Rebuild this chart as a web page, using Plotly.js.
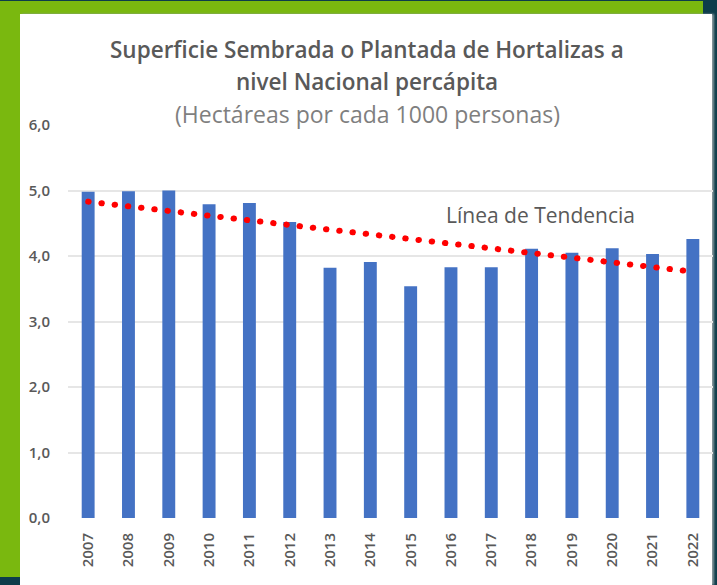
<!DOCTYPE html>
<html>
<head>
<meta charset="utf-8">
<script src="https://cdn.plot.ly/plotly-3.0.1.min.js"></script>
<style>
  html, body { margin: 0; padding: 0; width: 717px; height: 585px; overflow: hidden; background: #0d3d4b; }
  #green { position: absolute; left: 0; top: 1px; width: 703px; height: 576px; background: #7ab80f; }
  #white { position: absolute; left: 20px; top: 14px; width: 692px; height: 571px; background: #ffffff; box-shadow: 2px 0 2px #8a9a9e; }
  #chart { position: absolute; left: 0; top: 0; width: 717px; height: 585px; }
  #chart .js-line { stroke-linecap: round; }
</style>
</head>
<body>
<div id="green"></div>
<div id="white"></div>
<div id="chart"></div>
<script>
// Data
const years = ['2007','2008','2009','2010','2011','2012','2013','2014','2015','2016','2017','2018','2019','2020','2021','2022'];
const values = [4.98, 4.99, 5.00, 4.79, 4.81, 4.52, 3.82, 3.91, 3.54, 3.83, 3.83, 4.11, 4.05, 4.12, 4.03, 4.26];
const trendYears = ['2007', '2022'];
const trendValues = [4.83, 3.76];
const yTicks = [0, 1, 2, 3, 4, 5, 6];

const titleLine1 = 'Superficie Sembrada o Plantada de Hortalizas a';
const titleLine2 = 'nivel Nacional percápita';
const subtitle = '(Hectáreas por cada 1000 personas)';
const trendLabel = 'Línea de Tendencia';

const fontFam = '"Open Sans", "Noto Sans", sans-serif';
const grey = '#595959';

const traces = [
  {
    type: 'bar',
    x: years,
    y: values,
    marker: { color: '#4472c4' },
    width: 0.32,
    hoverinfo: 'x+y'
  },
  {
    type: 'scatter',
    mode: 'lines',
    x: trendYears,
    y: trendValues,
    line: { color: '#ff0000', width: 6, dash: '0.5px,12.8px' },
    hoverinfo: 'skip'
  }
];

const layout = {
  width: 717,
  height: 585,
  margin: { l: 68, r: 4, t: 125, b: 67 },
  paper_bgcolor: 'rgba(0,0,0,0)',
  plot_bgcolor: 'rgba(0,0,0,0)',
  showlegend: false,
  separators: ',.',
  font: { family: fontFam, color: grey },
  xaxis: {
    type: 'category',
    range: [-0.5, 15.5],
    showgrid: false,
    zeroline: false,
    showline: false,
    ticks: '',
    tickangle: -90,
    ticklabelstandoff: 11,
    tickfont: { size: 15, color: grey, family: fontFam, weight: 600 },
    fixedrange: true
  },
  yaxis: {
    range: [0, 6],
    tickvals: yTicks,
    tickformat: '.1f',
    showgrid: true,
    gridcolor: '#e6e6e6',
    gridwidth: 2,
    zeroline: false,
    showline: false,
    ticks: '',
    ticklabelstandoff: 17,
    tickfont: { size: 15, color: grey, family: fontFam, weight: 600 },
    fixedrange: true
  },
  annotations: [
    {
      text: titleLine1,
      xref: 'paper', yref: 'paper',
      x: (367 - 68) / 645, y: (518 - 49) / 393,
      xanchor: 'center', yanchor: 'middle',
      showarrow: false,
      font: { size: 22.5, color: grey, family: fontFam, weight: 600 }
    },
    {
      text: titleLine2,
      xref: 'paper', yref: 'paper',
      x: (367 - 68) / 645, y: (518 - 81) / 393,
      xanchor: 'center', yanchor: 'middle',
      showarrow: false,
      font: { size: 22.5, color: grey, family: fontFam, weight: 600 }
    },
    {
      text: subtitle,
      xref: 'paper', yref: 'paper',
      x: (367 - 68) / 645, y: (518 - 114) / 393,
      xanchor: 'center', yanchor: 'middle',
      showarrow: false,
      font: { size: 23, color: '#7f7f7f', family: fontFam }
    },
    {
      text: trendLabel,
      xref: 'paper', yref: 'paper',
      x: (540 - 68) / 645, y: (518 - 215) / 393,
      xanchor: 'center', yanchor: 'middle',
      showarrow: false,
      font: { size: 21, color: grey, family: fontFam }
    }
  ]
};

Plotly.newPlot('chart', traces, layout, { displayModeBar: false, staticPlot: true });
</script>
</body>
</html>
